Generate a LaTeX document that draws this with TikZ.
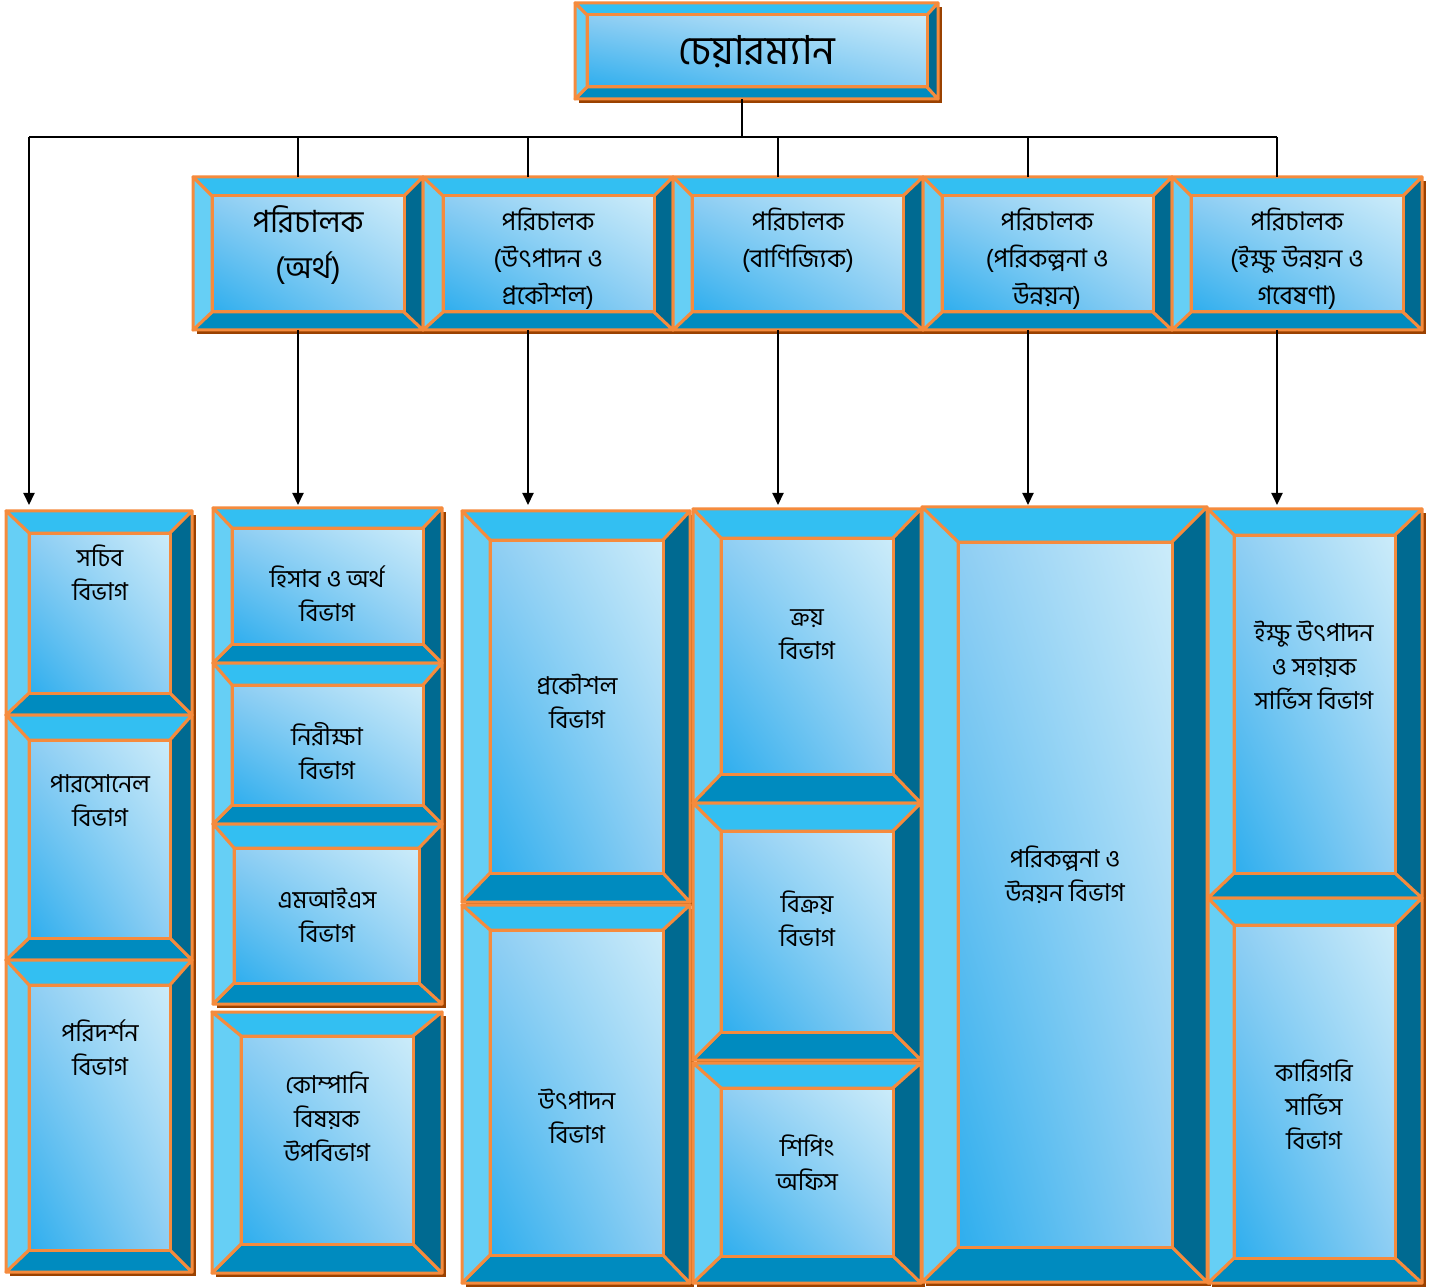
\documentclass[tikz,border=0pt]{standalone}
\usepackage{fontspec}
\newfontfamily\bangla[Script=Bengali]{Hind Siliguri}
\usetikzlibrary{arrows.meta,shadings}

\definecolor{bevtop}{HTML}{33BFF2}
\definecolor{bevleft}{HTML}{66CFF5}
\definecolor{bevright}{HTML}{006A91}
\definecolor{bevbot}{HTML}{008BBF}
\definecolor{rim}{HTML}{F58B3D}
\definecolor{shadowbrown}{HTML}{9A4100}
\definecolor{gradlo}{HTML}{2EAEEE}
\definecolor{gradhi}{HTML}{CCECFA}
\definecolor{gradmid}{HTML}{8FCEF3}

\tikzset{
  rimline/.style={draw=rim, line width=1.5pt, line join=round},
  conn/.style={line width=1pt},
  arr/.style={line width=1pt, -{Triangle[length=6pt,width=5.5pt]}},
  lbl/.style={align=center, inner sep=0pt, font=\bangla\fontsize{12.3}{17}\selectfont},
  dlbl/.style={align=center, inner sep=0pt, font=\bangla\fontsize{12.8}{18.5}\selectfont},
}

% bevelled box: name, outer corners, inner corners (pixel units)
\newcommand\bevelbox[9]{%
  \fill[shadowbrown] (#2+4,#3+4) rectangle (#4+4,#5+4);
  \filldraw[rimline, fill=bevtop] (#2,#3) -- (#4,#3) -- (#8,#7) -- (#6,#7) -- cycle;
  \filldraw[rimline, fill=bevbot] (#2,#5) -- (#4,#5) -- (#8,#9) -- (#6,#9) -- cycle;
  \filldraw[rimline, fill=bevleft] (#2,#3) -- (#6,#7) -- (#6,#9) -- (#2,#5) -- cycle;
  \filldraw[rimline, fill=bevright] (#4,#3) -- (#8,#7) -- (#8,#9) -- (#4,#5) -- cycle;
  \shadedraw[rimline, lower left=gradlo, upper right=gradhi, upper left=gradmid, lower right=gradmid] (#6,#7) rectangle (#8,#9);
  \coordinate (#1-n) at ({(#2+#4)/2},#3);
  \coordinate (#1-s) at ({(#2+#4)/2},#5);
}

\begin{document}
\begin{tikzpicture}[x=0.5pt,y=-0.5pt]
  \useasboundingbox (0,0) rectangle (1439,1288);

  %%% top
  \bevelbox{chair}{575}{3}{938}{99}{587}{15}{927}{87}
  \node[font=\bangla\fontsize{20}{24}\selectfont] (chairtxt) at (757,52) {চেয়ারম্যান};

  %%% directors
  \bevelbox{dfin}{193}{177}{423}{330}{212}{196}{404}{312}
  \bevelbox{dprod}{423}{177}{673}{330}{443}{196}{654}{312}
  \bevelbox{dcom}{673}{177}{923}{330}{692}{196}{903}{312}
  \bevelbox{dplan}{923}{177}{1172}{330}{942}{196}{1153}{312}
  \bevelbox{dcane}{1172}{177}{1422}{330}{1191}{196}{1403}{312}

  \node[dlbl, font=\bangla\fontsize{15.3}{23}\selectfont] (dfintxt) at (308,245) {পরিচালক\\(অর্থ)};
  \begin{scope}
    \clip (443,196) rectangle (654,309);
    \node[dlbl] (dprodtxt) at (548,259) {পরিচালক\\(উৎপাদন ও\\প্রকৌশল)};
  \end{scope}
  \node[dlbl] (dcomtxt) at (798,240) {পরিচালক\\(বাণিজ্যিক)};
  \begin{scope}
    \clip (942,196) rectangle (1153,309);
    \node[dlbl] (dplantxt) at (1047,259) {পরিচালক\\(পরিকল্পনা ও\\উন্নয়ন)};
  \end{scope}
  \begin{scope}
    \clip (1191,196) rectangle (1403,309);
    \node[dlbl] (dcanetxt) at (1297,259) {পরিচালক\\(ইক্ষু উন্নয়ন ও\\গবেষণা)};
  \end{scope}

  %%% column 1
  \bevelbox{sachiv}{6}{511}{192}{715}{29}{533}{170}{693}
  \bevelbox{personnel}{6}{715}{192}{960}{29}{740}{170}{938}
  \bevelbox{inspect}{6}{960}{192}{1272}{29}{985}{170}{1250}
  \node[lbl] (sachivtxt) at (100,573) {সচিব\\বিভাগ};
  \node[lbl] (personneltxt) at (100,801) {পারসোনেল\\বিভাগ};
  \node[lbl] (inspecttxt) at (100,1048) {পরিদর্শন\\বিভাগ};

  %%% column 2
  \bevelbox{hisab}{213}{508}{442}{663}{232}{528}{423}{644}
  \bevelbox{audit}{213}{663}{442}{824}{232}{685}{423}{805}
  \bevelbox{mis}{213}{824}{442}{1004}{234}{848}{419}{983}
  \bevelbox{company}{212}{1012}{442}{1273}{241}{1036}{413}{1244}
  \node[lbl] (hisabtxt) at (327,594) {হিসাব ও অর্থ\\বিভাগ};
  \node[lbl] (audittxt) at (327,751) {নিরীক্ষা\\বিভাগ};
  \node[lbl] (mistxt) at (327,915) {এমআইএস\\বিভাগ};
  \node[lbl] (companytxt) at (327,1117) {কোম্পানি\\বিষয়ক\\উপবিভাগ};

  %%% column 3
  \bevelbox{engg}{462}{511}{690}{902}{490}{540}{663}{873}
  \bevelbox{prod}{462}{905}{690}{1283}{490}{930}{663}{1255}
  \node[lbl] (enggtxt) at (577,701) {প্রকৌশল\\বিভাগ};
  \node[lbl] (prodtxt) at (577,1116) {উৎপাদন\\বিভাগ};

  %%% column 4
  \bevelbox{purchase}{693}{509}{921}{803}{721}{538}{893}{774}
  \bevelbox{sales}{693}{803}{921}{1060}{721}{831}{893}{1032}
  \bevelbox{shipping}{693}{1063}{921}{1283}{721}{1088}{893}{1256}
  \node[lbl] (purchasetxt) at (807,635) {ক্রয়\\বিভাগ};
  \node[lbl] (salestxt) at (807,919) {বিক্রয়\\বিভাগ};
  \node[lbl] (shippingtxt) at (807,1163) {শিপিং\\অফিস};

  %%% column 5
  \bevelbox{plan}{922}{507}{1207}{1282}{958}{542}{1172}{1247}
  \node[lbl] (plantxt) at (1065,875) {পরিকল্পনা ও\\উন্নয়ন বিভাগ};

  %%% column 6
  \bevelbox{cane}{1208}{509}{1422}{898}{1234}{535}{1395}{873}
  \bevelbox{tech}{1208}{898}{1422}{1283}{1234}{925}{1395}{1258}
  \node[lbl] (canetxt) at (1314,665) {ইক্ষু উৎপাদন\\ও সহায়ক\\সার্ভিস বিভাগ};
  \node[lbl] (techtxt) at (1314,1105) {কারিগরি\\সার্ভিস\\বিভাগ};

  %%% connectors
  \coordinate (busL) at (29,137);
  \coordinate (busR) at (1277,137);
  \coordinate (busC) at (742,137);
  \coordinate (sachiv-tip) at (29,505);
  \draw[conn] (busL) -- (busR);
  \draw[conn] (busC |- chair-s) -- (busC);
  \draw[arr] (busL) -- (sachiv-tip);
  \foreach \d/\x in {dfin/298,dprod/528,dcom/778,dplan/1028,dcane/1277}{
    \coordinate (\d-top) at (\x,137);
    \coordinate (\d-tip) at (\x,505);
    \draw[conn] (\d-top) -- (\d-top |- \d-n);
    \draw[arr] (\d-top |- \d-s) -- (\d-tip);
  }
\end{tikzpicture}
\end{document}
